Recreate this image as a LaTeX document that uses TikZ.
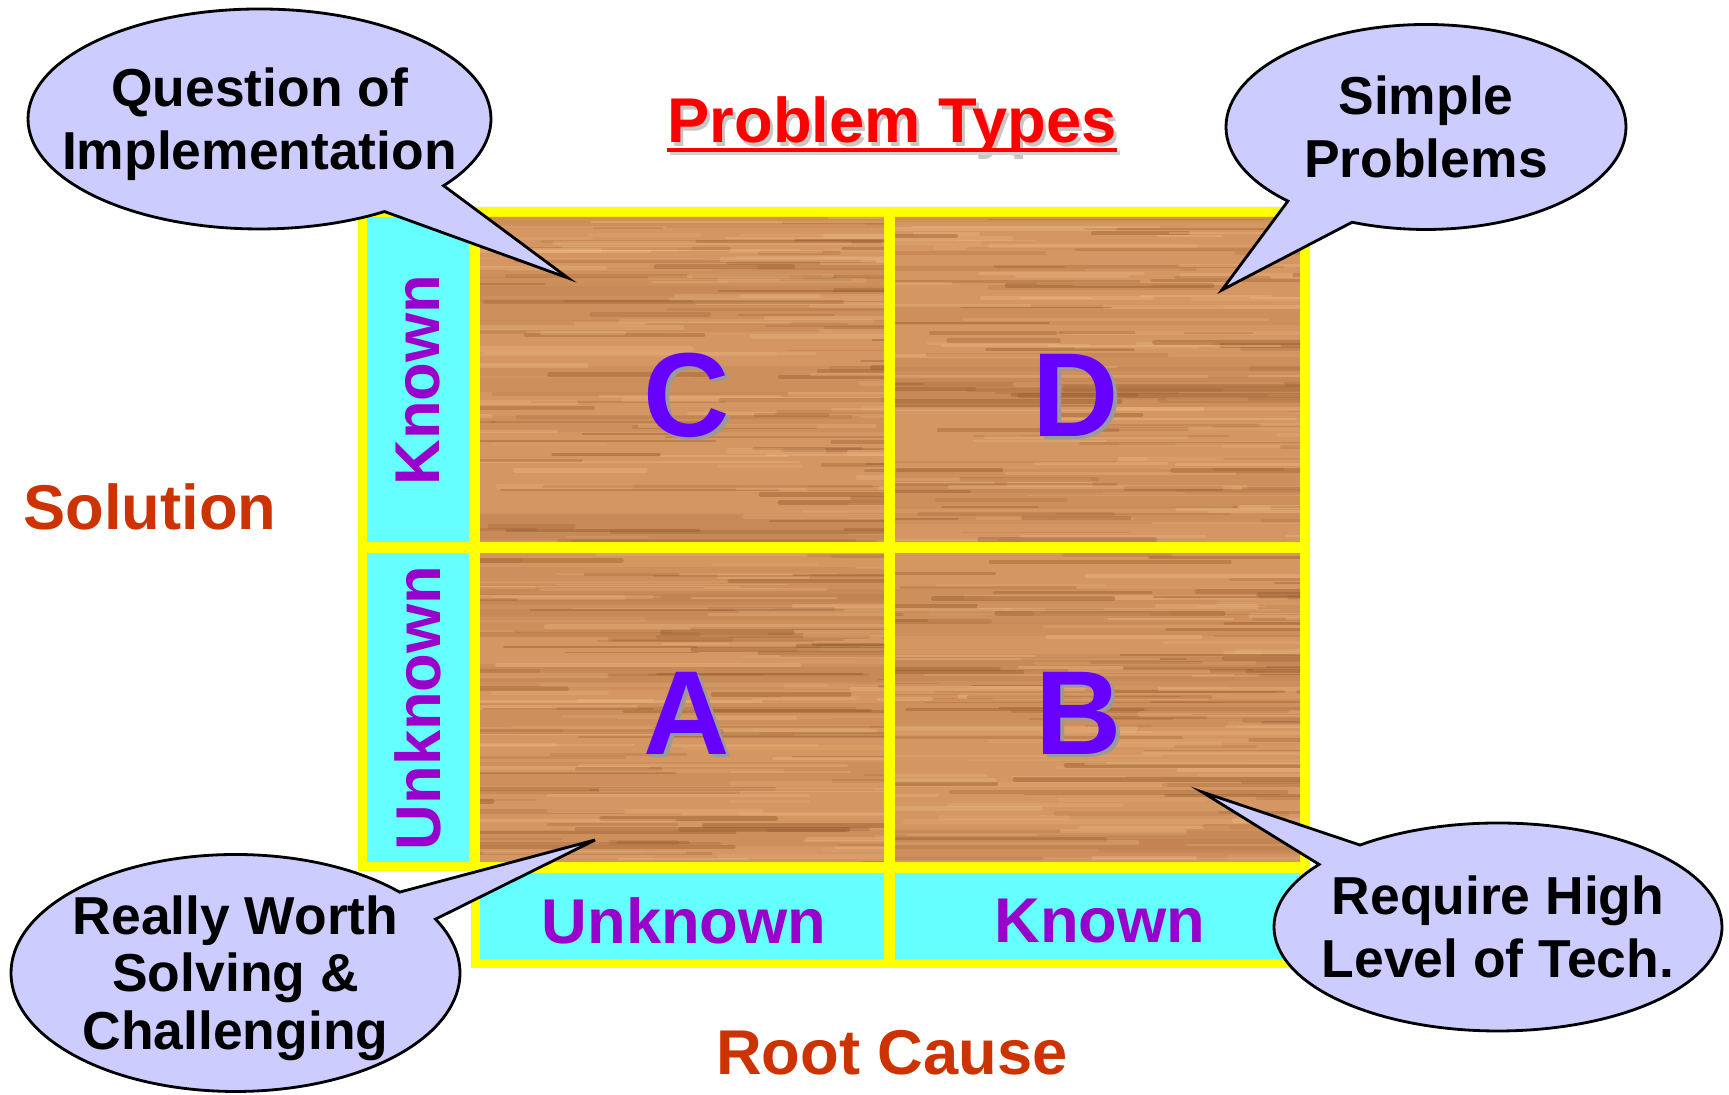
\documentclass[tikz,border=0pt]{standalone}
\usepackage{fontspec}
\setmainfont{Liberation Sans}
\usetikzlibrary{positioning,shapes.callouts}

\definecolor{frameyellow}{RGB}{255,255,0}
\definecolor{stripcyan}{RGB}{102,255,255}
\definecolor{lblpurple}{RGB}{153,0,204}
\definecolor{letterblue}{RGB}{102,0,255}
\definecolor{axisred}{RGB}{204,51,0}
\definecolor{titlered}{RGB}{255,0,0}
\definecolor{bubblefill}{RGB}{204,204,255}
\definecolor{woodbase}{RGB}{212,150,98}
\definecolor{wooddark}{RGB}{150,90,45}
\definecolor{woodlight}{RGB}{236,184,130}

% wood panel: clip, base fill, a few broad bands, then many grain streaks
\newcommand{\woodcell}[4]{%
  \begin{scope}
    \clip (#1,#2) rectangle (#3,#4);
    \fill[woodbase] (#1,#2) rectangle (#3,#4);
    \foreach \k in {1,...,10}{
      \pgfmathsetmacro{\wy}{#2+rnd*(#4-#2)}
      \pgfmathsetmacro{\wh}{.08+.2*rnd}
      \fill[wooddark, opacity=.10] (#1,\wy) rectangle (#3,\wy+\wh);
    }
    \foreach \k in {1,...,150}{
      \pgfmathsetmacro{\wx}{#1-1+rnd*(#3-#1+1)}
      \pgfmathsetmacro{\wy}{#2+rnd*(#4-#2)}
      \pgfmathsetmacro{\wl}{.6+3*rnd}
      \pgfmathsetmacro{\ww}{.4+1.1*rnd}
      \pgfmathsetmacro{\wo}{.15+.3*rnd}
      \ifodd\k\relax\def\wc{wooddark}\else\def\wc{woodlight}\fi
      \draw[\wc, line width=\ww pt, opacity=\wo, line cap=round] (\wx,\wy) -- ++(\wl,0);
    }
  \end{scope}}

% text with a small grey drop shadow
\newcommand{\shd}[2][black!40]{\makebox[0pt][l]{\hspace{.9pt}\raisebox{-.9pt}{\textcolor{#1}{#2}}}#2}

\begin{document}
\begin{tikzpicture}[
  lbl/.style={font=\fontsize{18}{21}\selectfont\bfseries, text=lblpurple, inner sep=0pt},
  axis/.style={font=\fontsize{18}{21}\selectfont\bfseries, text=axisred, inner sep=0pt},
  letter/.style={font=\fontsize{34}{40}\selectfont\bfseries, text=letterblue, inner sep=0pt},
  bubble/.style={ellipse callout, draw=black, line width=.8pt, fill=bubblefill,
                 font=\fontsize{15.2}{17.8}\selectfont\bfseries, align=center,
                 inner xsep=-2cm, inner ysep=-1cm},
  strip/.style={fill=stripcyan},
]
\pgfmathsetseed{4711}
\useasboundingbox (0,0) rectangle (17.29,10.95);

% ---------------- yellow frame: side strip + 2x2 grid + bottom row ----------------
\fill[frameyellow] (3.58,8.88) -- (13.10,8.88) -- (13.10,1.27) -- (4.71,1.27)
  -- (4.71,2.24) -- (3.58,2.24) -- cycle;

% ---------------- cyan header cells ----------------
\fill[strip] (3.67,5.53) rectangle (4.69,8.78);   % solution known
\fill[strip] (3.67,2.33) rectangle (4.69,5.42);   % solution unknown
\fill[strip] (4.80,1.36) rectangle (8.84,2.22);   % root cause unknown
\fill[strip] (8.95,1.36) rectangle (13.00,2.22);  % root cause known

% ---------------- wooden quadrants ----------------
\woodcell{4.80}{5.53}{8.84}{8.78}
\woodcell{8.95}{5.53}{13.00}{8.78}
\woodcell{4.80}{2.33}{8.84}{5.42}
\woodcell{8.95}{2.33}{13.00}{5.42}

% ---------------- header labels ----------------
\node[lbl, rotate=90] (sKnown)   at (4.18,7.15) {Known};
\node[lbl, rotate=90] (sUnknown) at (4.18,3.87) {Unknown};
\node[lbl] (rUnknown) at (6.84,1.74)  {Unknown};
\node[lbl] (rKnown)   at (11.00,1.74) {Known};

% ---------------- quadrant letters ----------------
\node[letter] (qC) at (6.87,6.98)  {\shd{C}};
\node[letter] (qD) at (10.76,6.98) {\shd{D}};
\node[letter] (qA) at (6.87,3.80)  {\shd{A}};
\node[letter] (qB) at (10.79,3.80) {\shd{B}};

% ---------------- axis names + title ----------------
\node[axis] (solution)  at (1.50,5.88) {Solution};
\node[axis] (rootcause) at (8.92,0.42) {Root Cause};
\node[font=\fontsize{18}{21}\selectfont\bfseries, text=titlered, inner sep=0pt, anchor=base]
  (title) at (8.92,9.52) {\shd[black!22]{Problem Types}};
\draw[black!18, line width=1.1pt] ([xshift=.8pt,yshift=-2.8pt]title.base west)
  -- ([xshift=.8pt,yshift=-2.8pt]title.base east);
\draw[titlered, line width=1.1pt] ([yshift=-2pt]title.base west) -- ([yshift=-2pt]title.base east);

% ---------------- callouts (pointer tips sit inside the quadrants) ----------------
\coordinate (tipC) at (5.68,8.17);
\coordinate (tipD) at (12.22,8.05);
\coordinate (tipA) at (5.95,2.55);
\coordinate (tipB) at (12.02,3.03);

\node[bubble, minimum width=4.63cm, minimum height=2.20cm,
      callout absolute pointer={(tipC)}, callout pointer arc=20]
  (bImpl) at (2.595,9.76) {\rule{0pt}{14pt}Question of\\Implementation};
\node[bubble, minimum width=4.00cm, minimum height=2.05cm,
      callout absolute pointer={(tipD)}, callout pointer arc=22]
  (bSimple) at (14.26,9.68) {Simple\\Problems};
\node[bubble, minimum width=4.49cm, minimum height=2.37cm,
      callout absolute pointer={(tipA)}, callout pointer arc=16,
      font=\fontsize{15.2}{16.3}\selectfont\bfseries]
  (bWorth) at (2.355,1.22) {\rule{0pt}{14pt}Really Worth\\Solving \&\\Challenging};
\node[bubble, minimum width=4.48cm, minimum height=2.08cm,
      callout absolute pointer={(tipB)}, callout pointer arc=15]
  (bTech) at (14.98,1.68) {Require High\\Level of Tech.};

\end{tikzpicture}
\end{document}
